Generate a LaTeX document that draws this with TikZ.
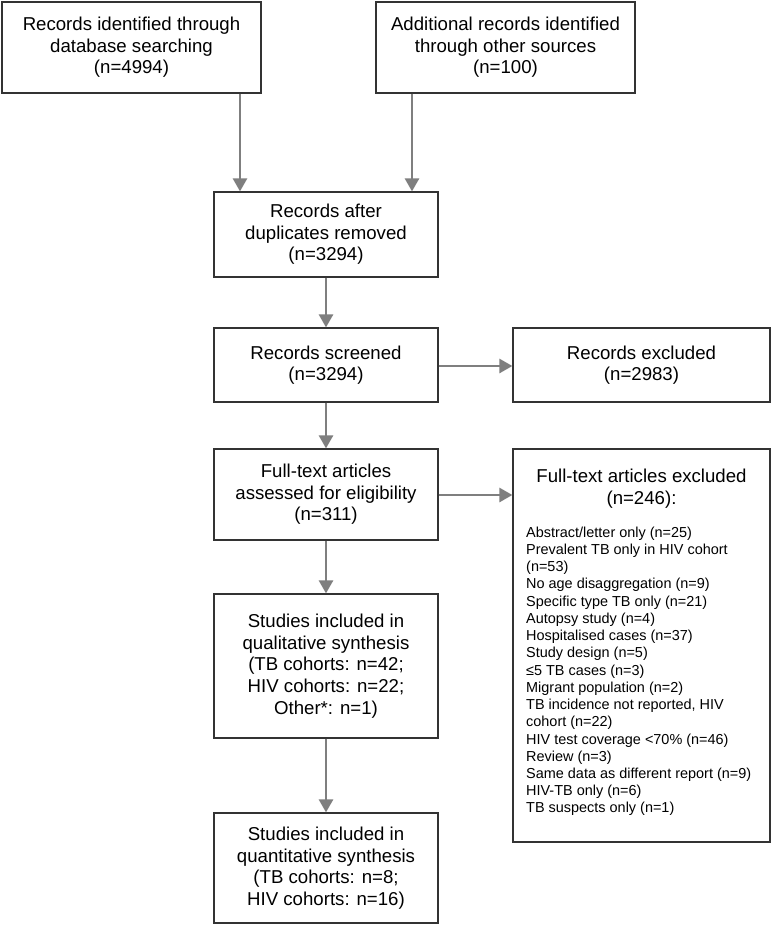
\documentclass[tikz,border=0pt]{standalone}
\usepackage{fontspec}
\setmainfont{Liberation Sans}
\usetikzlibrary{arrows.meta}
\definecolor{boxc}{HTML}{333333}
\definecolor{arrc}{HTML}{7F7F7F}
\begin{document}
\begin{tikzpicture}[x=1bp,y=-1bp]
\useasboundingbox[fill=white] (0,0) rectangle (772,926);
\tikzset{
  box/.style={draw=boxc, line width=1.2bp, inner sep=0pt, align=center,
    font=\fontsize{18.7}{21.7}\selectfont},
  conn/.style={draw=arrc, line width=2.6bp, -{Triangle[length=13bp,width=14bp]}},
  lst/.style={inner sep=0pt, align=left, font=\fontsize{14.5}{17.3}\selectfont},
  hd/.style={inner sep=0pt, align=center, font=\fontsize{18.7}{21.7}\selectfont}
}
% boxes
\node[box, minimum width=259bp, minimum height=91bp] (b1) at (131.5,47.5)
  {Records identified through\\database searching\\(n=4994)};
\node[box, minimum width=259bp, minimum height=91bp] (b2) at (505.5,47.5)
  {Additional records identified\\through other sources\\(n=100)};
\node[box, minimum width=224bp, minimum height=85bp] (b3) at (326,234.5)
  {Records after\\duplicates removed\\(n=3294)};
\node[box, minimum width=224bp, minimum height=74bp] (b4) at (326,365)
  {Records screened\\(n=3294)};
\node[box, minimum width=257bp, minimum height=74bp] (b5) at (641.5,365)
  {Records excluded\\(n=2983)};
\node[box, minimum width=224bp, minimum height=91bp] (b6) at (326,494.5)
  {Full-text articles\\assessed for eligibility\\(n=311)};
\node[box, minimum width=257bp, minimum height=393bp] (b7) at (641.5,645.5) {};
\node[box, minimum width=224bp, minimum height=144bp] (b8) at (326,666)
  {Studies included in\\qualitative synthesis\\(TB cohorts: n=42;\\HIV cohorts: n=22;\\Other*: n=1)};
\node[box, minimum width=224bp, minimum height=110bp] (b9) at (326,868)
  {Studies included in\\quantitative synthesis\\(TB cohorts: n=8;\\HIV cohorts: n=16)};
% texts of the exclusion box
\node[hd, anchor=north] (h7) at (641.5,469) {Full-text articles excluded\\(n=246):};
\node[lst, anchor=north west] (l7) at (526,526.5) {Abstract/letter only (n=25)\\
Prevalent TB only in HIV cohort\\
(n=53)\\
No age disaggregation (n=9)\\
Specific type TB only (n=21)\\
Autopsy study (n=4)\\
Hospitalised cases (n=37)\\
Study design (n=5)\\
≤5 TB cases (n=3)\\
Migrant population (n=2)\\
TB incidence not reported, HIV\\
cohort (n=22)\\
HIV test coverage <70\% (n=46)\\
Review (n=3)\\
Same data as different report (n=9)\\
HIV-TB only (n=6)\\
TB suspects only (n=1)};
% connector columns and rows
\coordinate (c1) at (240,0);
\coordinate (c2) at (412,0);
\coordinate (r4) at (0,366);
\coordinate (r6) at (0,495);
% connectors
\draw[conn] (b1.south -| c1) -- (b3.north -| c1);
\draw[conn] (b2.south -| c2) -- (b3.north -| c2);
\draw[conn] (b3) -- (b4);
\draw[conn] (b4.east |- r4) -- (b5.west |- r4);
\draw[conn] (b4) -- (b6);
\draw[conn] (b6.east |- r6) -- (b7.west |- r6);
\draw[conn] (b6) -- (b8);
\draw[conn] (b8) -- (b9);
\end{tikzpicture}
\end{document}
